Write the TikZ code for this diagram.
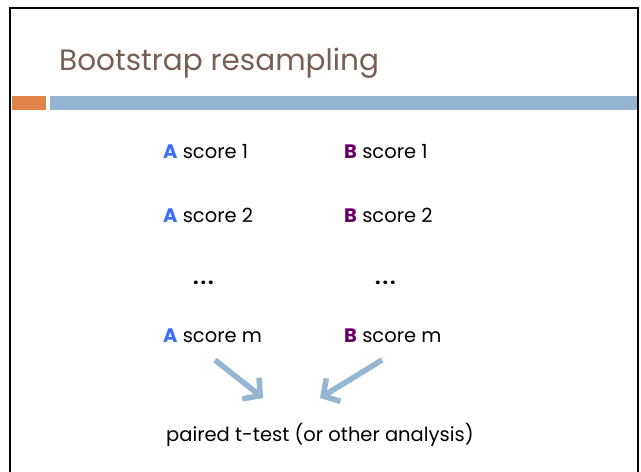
\documentclass[tikz,border=0pt]{standalone}
\usepackage{fontspec}
\setmainfont{Poppins}
\usetikzlibrary{arrows.meta}
\definecolor{titlebrown}{RGB}{119,95,85}
\definecolor{barorange}{RGB}{224,131,74}
\definecolor{barblue}{RGB}{148,182,210}
\definecolor{ablue}{RGB}{59,108,255}
\definecolor{bpurple}{RGB}{102,0,102}
\begin{document}
\begin{tikzpicture}[x=1pt,y=-1pt,
  lbl/.style={anchor=west,inner sep=0pt,font=\fontsize{19.5}{23}\selectfont},
  bigarrow/.style={barblue,line width=5.5pt,-{Straight Barb[length=12pt,width=27pt,line width=5.5pt]}}]
\useasboundingbox (0,0) rectangle (641,472);
\fill[white] (0,0) rectangle (641,472);
\draw[line width=2.5pt] (10,480) -- (10,8) -- (638,8) -- (638,480);
\fill[barorange] (11.5,96) rectangle (46,110);
\fill[barblue] (50,96) rectangle (636.5,110);
\node[anchor=base west,inner sep=0pt,text=titlebrown,font=\fontsize{29.5}{35}\selectfont] (title) at (59,70) {Bootstrap resampling};
\node[lbl] (a1) at (163,152) {\textcolor{ablue}{\textbf{A}} score 1};
\node[lbl] (b1) at (344,152) {\textcolor{bpurple}{\textbf{B}} score 1};
\node[lbl] (a2) at (163,215) {\textcolor{ablue}{\textbf{A}} score 2};
\node[lbl] (b2) at (344,215) {\textcolor{bpurple}{\textbf{B}} score 2};
\node[lbl] (ad) at (193,283) {\textbf{.\kern2pt.\kern2pt.}};
\node[lbl] (bd) at (375,283) {\textbf{.\kern2pt.\kern2pt.}};
\node[lbl] (am) at (163,336) {\textcolor{ablue}{\textbf{A}} score m};
\node[lbl] (bm) at (344,336) {\textcolor{bpurple}{\textbf{B}} score m};
\node[lbl] (test) at (166,435) {paired t-test (or other analysis)};
\coordinate (as) at (215,360);
\coordinate (ae) at (263,398);
\coordinate (bs) at (382,360);
\coordinate (be) at (320,398);
\draw[bigarrow] (as) -- (ae);
\draw[bigarrow] (bs) -- (be);
\end{tikzpicture}
\end{document}
